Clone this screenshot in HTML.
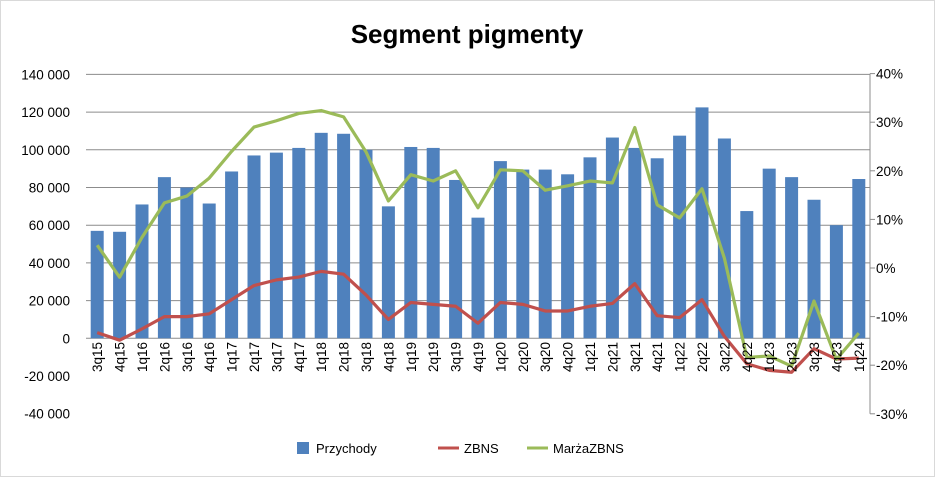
<!DOCTYPE html>
<html><head><meta charset="utf-8"><style>
body{margin:0;background:#fff;}
svg{display:block;font-family:"Liberation Sans",sans-serif;}
</style></head><body>
<svg id="c" width="935" height="477">
<rect x="0.5" y="0.5" width="934" height="476" fill="#fff" stroke="#d9d9d9"/>
<text x="467" y="43" text-anchor="middle" font-size="26" font-weight="bold" fill="#000">Segment pigmenty</text>
<g id="grid"></g><g id="bars"></g><g id="lines"></g><g id="axes"></g>
<g>
<rect x="297" y="442" width="12" height="12" fill="#4f81bd"/>
<text x="316" y="453" font-size="13">Przychody</text>
<line x1="438" y1="448" x2="459" y2="448" stroke="#c0504d" stroke-width="3"/>
<text x="464" y="453" font-size="13">ZBNS</text>
<line x1="527" y1="448" x2="548" y2="448" stroke="#9bbb59" stroke-width="3"/>
<text x="553" y="453" font-size="13">MarżaZBNS</text>
</g>
</svg>
<script>
const categories=["3q15","4q15","1q16","2q16","3q16","4q16","1q17","2q17","3q17","4q17","1q18","2q18","3q18","4q18","1q19","2q19","3q19","4q19","1q20","2q20","3q20","4q20","1q21","2q21","3q21","4q21","1q22","2q22","3q22","4q22","1q23","2q23","3q23","4q23","1q24"];
const przychody=[57000,56500,71000,85500,80000,71500,88500,97000,98500,101000,109000,108500,100000,70000,101500,101000,84000,64000,94000,89500,89500,87000,96000,106500,101000,95500,107500,122500,106000,67500,90000,85500,73500,60000,84500];
const zbns=[3000,-1000,5000,11500,11500,13000,20500,28000,31000,32500,35500,34000,23000,10000,19000,18000,17000,8000,19000,18000,14500,14500,17000,18500,29000,12000,11000,20500,1000,-13500,-17000,-18000,-5500,-11000,-10500];
const marza=[4.7,-1.9,6.3,13.4,14.8,18.5,24,29,30.3,31.8,32.4,31.1,23.9,13.8,19.2,17.9,20,12.4,20.2,20,16,16.9,17.9,17.5,28.9,13,10.3,16.3,2,-18.4,-18.1,-20.2,-6.8,-18.8,-13.4];
const leftTicks=[140000,120000,100000,80000,60000,40000,20000,0,-20000,-40000];
const rightTicks=[40,30,20,10,0,-10,-20,-30];
const NS="http://www.w3.org/2000/svg";
const L=86,R=870,N=categories.length,bw=(R-L)/N;
const yL=v=>338.3-(v/20000)*37.7;
const yR=p=>268-(p/10)*48.6;
const xC=i=>L+bw*(i+0.5);
function mk(t,a,p){const e=document.createElementNS(NS,t);for(const k in a)e.setAttribute(k,a[k]);p.appendChild(e);return e;}
const fmt=v=>(v<0?"-":"")+Math.abs(v).toLocaleString("en-US").replace(/,/g," ");
const grid=document.getElementById("grid"),bars=document.getElementById("bars"),lines=document.getElementById("lines"),axes=document.getElementById("axes");
leftTicks.forEach(v=>{
 if(v>=0){const g=mk("line",{x1:L,x2:R,y1:yL(v),y2:yL(v),stroke:"#8c8c8c","stroke-width":1},grid);
 
 }
 const t=mk("text",{x:70,y:yL(v)+5,"text-anchor":"end","font-size":13.5},axes);t.textContent=fmt(v);
 
 
});
const ra=mk("line",{x1:R,x2:R,y1:yR(40),y2:yR(-30),stroke:"#8c8c8c"},axes);


rightTicks.forEach(p=>{
 const tk=mk("line",{x1:R,x2:R+5,y1:yR(p),y2:yR(p),stroke:"#8c8c8c"},axes);
 
 
 const t=mk("text",{x:R+6,y:yR(p)+5,"font-size":13.5},axes);t.textContent=p+"%";
 
 
});
przychody.forEach((v,i)=>{
 const y=yL(v),y0=yL(0);
 const b=mk("rect",{x:xC(i)-6.5,y:Math.min(y,y0),width:13,height:Math.abs(y0-y),fill:"#4f81bd"},bars);
 
 
 const t=mk("text",{x:0,y:0,"font-size":13.5,"text-anchor":"end",transform:`translate(${xC(i)+5},342) rotate(-90)`},axes);
 t.textContent=categories[i];
 
 
});
const zl=mk("polyline",{points:zbns.map((v,i)=>xC(i)+","+yL(v)).join(" "),fill:"none",stroke:"#c0504d","stroke-width":3.2,"stroke-linejoin":"round"},lines);


const ml=mk("polyline",{points:marza.map((v,i)=>xC(i)+","+yR(v)).join(" "),fill:"none",stroke:"#9bbb59","stroke-width":3.2,"stroke-linejoin":"round"},lines);


</script>
</body></html>
